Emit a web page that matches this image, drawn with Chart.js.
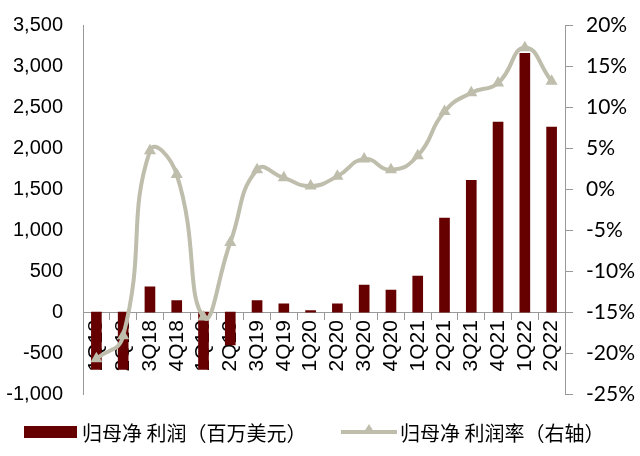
<!DOCTYPE html>
<html>
<head>
<meta charset="utf-8">
<script src="https://cdn.jsdelivr.net/npm/chart.js@4/dist/chart.umd.min.js"></script>
<style>
  html, body { margin: 0; padding: 0; background: #fff; }
  #wrap { position: relative; width: 640px; height: 456px; }
  #legend { position: absolute; left: 0; top: 420px; width: 640px; height: 24px;
    font-family: "Noto Sans CJK SC", sans-serif; font-size: 20px; color: #000; }
  .item { position: absolute; top: 0; display: flex; align-items: center; height: 24px; white-space: pre; }
  .bar-swatch { width: 53px; height: 12px; background: #660000; margin-right: 5px; }
  .line-swatch { position: relative; width: 56px; height: 4px; background: #bfbdac; margin-right: 3px; }
  .line-swatch span { position: absolute; left: 23px; top: -6px; width: 0; height: 0;
    border-left: 5px solid transparent; border-right: 5px solid transparent; border-bottom: 8px solid #bfbdac; }
</style>
</head>
<body>
<div id="wrap">
  <canvas id="chart" width="640" height="456"></canvas>
  <div id="legend">
    <div class="item" style="left:24px"><div class="bar-swatch"></div>归母净 利润（百万美元）</div>
    <div class="item" style="left:341px"><div class="line-swatch"><span></span></div>归母净 利润率（右轴）</div>
  </div>
</div>
<script>
const quarters = ['1Q18','2Q18','3Q18','4Q18','1Q19','2Q19','3Q19','4Q19','1Q20','2Q20','3Q20','4Q20','1Q21','2Q21','3Q21','4Q21','1Q22','2Q22'];
// net profit attributable, USD mn
const netProfit = [-700, -700, 310, 140, -700, -400, 140, 100, 20, 100, 330, 270, 440, 1150, 1610, 2320, 3160, 2260];
// net margin, %
const netMargin = [-20.7, -17.9, 4.7, 1.8, -15.6, -6.5, 2.4, 1.4, 0.4, 1.6, 3.7, 2.4, 4.1, 9.5, 11.8, 13.0, 17.3, 13.2];

const barColor = '#660000';
const lineColor = '#bfbdac';
const axisColor = '#999999';

const ctx = document.getElementById('chart');

new Chart(ctx, {
  type: 'bar',
  data: {
    labels: quarters,
    datasets: [{
      type: 'line',
      label: '归母净利润率（右轴）',
      data: netMargin,
      yAxisID: 'y1',
      borderColor: lineColor,
      backgroundColor: lineColor,
      borderWidth: 4,
      tension: 0.5,
      pointStyle: 'triangle',
      pointRadius: 7,
      pointBorderWidth: 0,
      order: 0
    }, {
      label: '归母净利润（百万美元）',
      data: netProfit,
      yAxisID: 'y',
      backgroundColor: barColor,
      barThickness: 10,
      order: 1
    }]
  },
  options: {
    responsive: false,
    animation: false,
    layout: { padding: { top: 17, bottom: 62, left: 0, right: 0 } },
    plugins: {
      legend: { display: false },
      tooltip: { enabled: false }
    },
    scales: {
      x: {
        position: { y: 0 },
        z: 1,
        grid: { display: true, drawOnChartArea: false, tickLength: 7, color: axisColor },
        border: { display: true, color: axisColor },
        ticks: {
          autoSkip: false, minRotation: 90, maxRotation: 90, padding: 1,
          color: '#000', font: { family: 'Liberation Sans', size: 21 }
        }
      },
      y: {
        position: 'left',
        min: -1000, max: 3500,
        grid: { display: false },
        border: { display: true, color: axisColor },
        ticks: {
          stepSize: 500, padding: 12, color: '#000',
          font: { family: 'Liberation Sans', size: 20 },
          callback: v => v.toLocaleString('en-US')
        },
        afterFit: s => { s.width = 83; }
      },
      y1: {
        position: 'right',
        min: -25, max: 20,
        grid: { display: true, drawOnChartArea: false, tickLength: 8, color: axisColor },
        border: { display: true, color: axisColor },
        ticks: {
          stepSize: 5, padding: 13, color: '#000',
          font: { family: 'Lato', size: 21 },
          callback: v => v + '%'
        },
        afterFit: s => { s.width = 75; }
      }
    }
  }
});
</script>
</body>
</html>
